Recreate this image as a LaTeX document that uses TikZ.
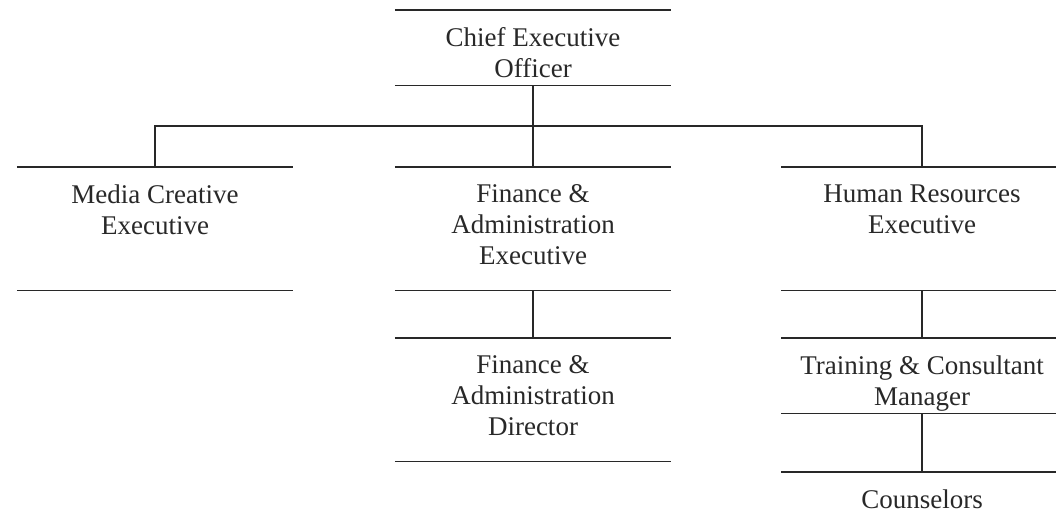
\documentclass[tikz,border=0pt]{standalone}
\usepackage{fontspec}
\setmainfont{Liberation Serif}
\usepackage{tikz}
\usetikzlibrary{positioning}
\definecolor{ink}{RGB}{40,40,40}

\begin{document}
\begin{tikzpicture}[x=1pt, y=-1pt, line width=1.5pt, color=ink,
        post/.style={anchor=north, minimum width=275pt, inner sep=0pt},
        title/.style={anchor=north, yshift=-17pt, align=center, inner sep=0pt,
          font=\fontsize{27}{31}\selectfont}]
        \useasboundingbox (0,0) rectangle (1056,526);
        % posts
        \node [post, minimum height=74pt] (ceo) at (533,10) {};
        \node [post, minimum height=122pt] (media) at (155,167) {};
        \node [post, minimum height=122pt] (fin) at (533,167) {};
        \node [post, minimum height=122pt, minimum width=280pt] (hr) at (922,167) {};
        \node [post, minimum height=122pt] (dir) at (533,338) {};
        \node [post, minimum height=74pt, minimum width=280pt] (train) at (922,338) {};
        \node [post, minimum height=60pt, minimum width=280pt] (couns) at (922,472) {};
        % titles
        \node [title] (ceot) at (ceo.north) {Chief Executive\\Officer};
        \node [title] (mediat) at (media.north) {Media Creative\\Executive};
        \node [title] (fint) at (fin.north) {Finance \&\\Administration\\Executive};
        \node [title] (hrt) at (hr.north) {Human Resources\\Executive};
        \node [title] (dirt) at (dir.north) {Finance \&\\Administration\\Director};
        \node [title] (traint) at (train.north) {Training \& Consultant\\Manager};
        \node [title] (counst) at (couns.north) {Counselors};
        % rules above and below
        \foreach \n in {ceo,media,fin,hr,dir,train}
          \draw (\n.north west) -- (\n.north east) (\n.south west) -- (\n.south east);
        \draw (couns.north west) -- (couns.north east);
        % lines
        \coordinate (bus) at (533,126);
        \draw (ceo.south) -- (bus);
        \draw (media.north) |- (bus) -| (hr.north);
        \draw (fin.north) -- (bus);
        \draw (fin.south) -- (dir.north);
        \draw (hr.south) -- (train.north);
        \draw (train.south) -- (couns.north);
\end{tikzpicture}
\end{document}
